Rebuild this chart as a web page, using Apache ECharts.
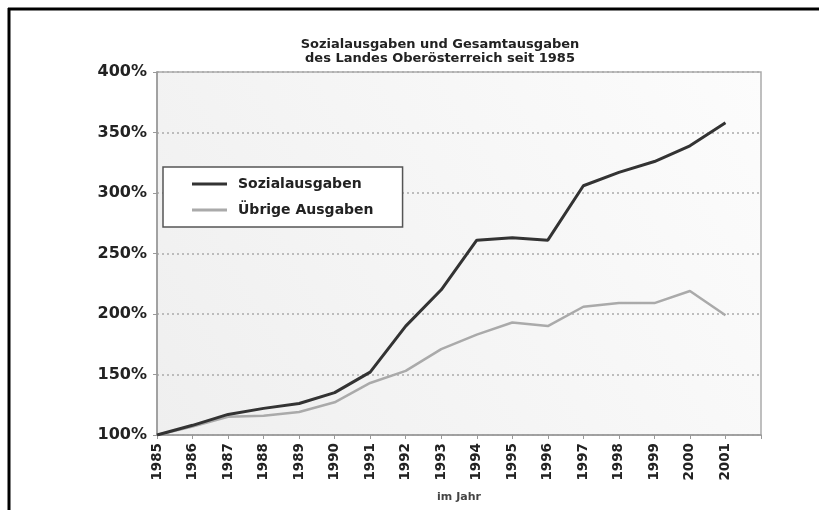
<!DOCTYPE html>
<html>
<head>
<meta charset="utf-8">
<script src="https://cdn.jsdelivr.net/npm/echarts@6/dist/echarts.min.js"></script>
<style>html,body{margin:0;padding:0;background:#fff}#c{width:819px;height:510px}</style>
</head>
<body>
<div id="c"></div>
<script>
const years = ['1985','1986','1987','1988','1989','1990','1991','1992','1993','1994','1995','1996','1997','1998','1999','2000','2001',''];
const sozialausgaben = [100,108,117,122,126,135,152,190,220,261,263,261,306,317,326,339,358];
const uebrigeAusgaben = [100,107,115,116,119,127,143,153,171,183,193,190,206,209,209,219,199];
const yTicks = [100,150,200,250,300,350,400];

const F = '"DejaVu Sans", sans-serif';
const chart = echarts.init(document.getElementById('c'), null, {renderer:'canvas'});
chart.setOption({
  backgroundColor:'#ffffff',
  animation:false,
  title:{
    text:'Sozialausgaben und Gesamtausgaben\ndes Landes Oberösterreich seit 1985',
    left:435, top:33, textAlign:'center',
    textStyle:{fontFamily:F, fontWeight:'bold', fontSize:13, color:'#222', lineHeight:14}
  },
  legend:{
    left:163, top:167, orient:'vertical',
    backgroundColor:'#ffffff', borderColor:'#555', borderWidth:1.5, borderRadius:0,
    padding:[10,29,10,29], itemGap:12, itemWidth:35, itemHeight:14,
    icon:'path://M0,0 L35,0 L35,3 L0,3 Z',
    textStyle:{fontFamily:F, fontWeight:'bold', fontSize:14, color:'#222', padding:[0,0,0,6]},
    data:['Sozialausgaben','Übrige Ausgaben']
  },
  grid:{
    left:157, right:58, top:72, bottom:75, show:true,
    borderColor:'#aaa', borderWidth:1.5,
    backgroundColor:new echarts.graphic.LinearGradient(0,1,1,0,[{offset:0,color:'#efefef'},{offset:1,color:'#fcfcfc'}])
  },
  xAxis:{
    type:'category', data:years, boundaryGap:false,
    axisLine:{lineStyle:{color:'#999', width:1.5}},
    axisTick:{show:true, length:4, interval:0, lineStyle:{color:'#999'}},
    axisLabel:{interval:0, rotate:90, margin:8, fontFamily:F, fontWeight:'bold', fontSize:13.5, color:'#222'},
    splitLine:{show:false},
    name:'im Jahr', nameLocation:'middle', nameGap:57,
    nameTextStyle:{fontFamily:F, fontWeight:'bold', fontSize:11, color:'#444'}
  },
  yAxis:{
    type:'value', min:100, max:400, interval:50,
    axisLine:{show:true, lineStyle:{color:'#999', width:1.5}},
    axisTick:{show:true, length:4, lineStyle:{color:'#999'}},
    axisLabel:{formatter:v=>v+'%', margin:10, fontFamily:F, fontWeight:'bold', fontSize:16, color:'#222'},
    splitLine:{show:true, lineStyle:{color:'#aaa', type:[2,3], width:1.5}}
  },
  series:[
    {name:'Sozialausgaben', type:'line', data:sozialausgaben, symbol:'none',
     lineStyle:{color:'#333', width:3}, itemStyle:{color:'#333'}, z:3},
    {name:'Übrige Ausgaben', type:'line', data:uebrigeAusgaben, symbol:'none',
     lineStyle:{color:'#aaa', width:2.5}, itemStyle:{color:'#aaa'}, z:2}
  ],
  graphic:[
    {type:'line', shape:{x1:8, y1:9, x2:819, y2:9}, style:{stroke:'#000', lineWidth:3}},
    {type:'line', shape:{x1:9, y1:8, x2:9, y2:510}, style:{stroke:'#000', lineWidth:3}}
  ]
});
</script>
</body>
</html>
